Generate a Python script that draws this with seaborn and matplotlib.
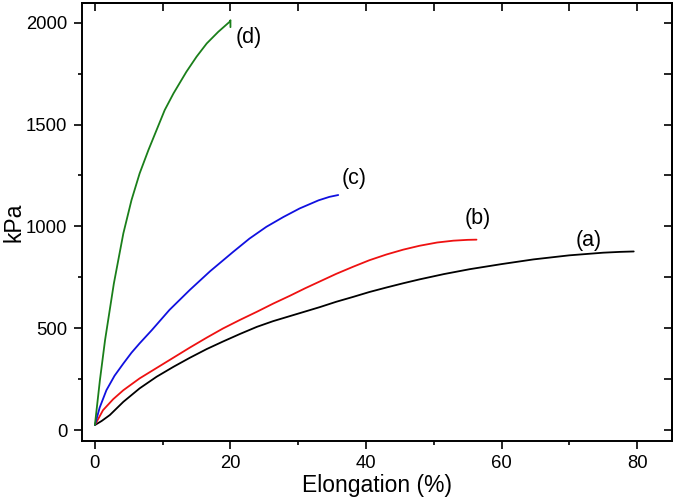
import matplotlib
matplotlib.use("Agg")
import matplotlib.pyplot as plt
import seaborn as sns
import pandas as pd
from matplotlib.ticker import MultipleLocator

# Data
a_x = [0, 1.0, 2.2, 4.2, 6.6, 9.1, 11.6, 14.0, 16.5, 18.9, 21.4, 23.9, 26.3, 28.8, 31.0, 33.2, 35.6, 38.1, 40.5,
       43.0, 45.5, 47.9, 51.5, 55.3, 60.0, 64.7, 70.0, 75.0, 77.5, 79.5]
a_y = [25, 45, 74, 139, 205, 262, 311, 355, 398, 435, 472, 507, 535, 560, 582, 604, 630, 654, 678,
       700, 721, 740, 766, 790, 815, 838, 858, 871, 875, 877]

b_x = [0, 1.2, 2.7, 4.2, 6.6, 9.1, 11.6, 14.0, 16.5, 18.9, 21.4, 23.9, 26.3, 28.8, 31.0, 33.2, 35.6, 38.1,
       40.5, 43.0, 45.5, 47.9, 50.5, 52.9, 55.0, 56.3]
b_y = [25, 98, 152, 196, 254, 305, 356, 405, 454, 499, 541, 581, 621, 660, 696, 730, 767, 802,
       834, 862, 886, 905, 921, 930, 934, 935]

c_x = [0, 0.7, 1.7, 2.9, 4.2, 5.4, 6.6, 8.4, 11.0, 14.0, 17.0, 20.4, 22.8, 25.3, 27.8, 30.2, 33.0, 34.6, 35.9]
c_y = [25, 110, 196, 267, 327, 380, 426, 491, 590, 688, 780, 875, 940, 998, 1046, 1088, 1128, 1145, 1154]

d_x = [0, 0.74, 1.5, 2.8, 4.2, 5.4, 6.6, 7.9, 9.1, 10.3, 11.6, 13.5, 15.0, 16.5, 18.2, 19.9, 20.0, 20.0]
d_y = [25, 245, 442, 720, 966, 1129, 1260, 1375, 1473, 1571, 1653, 1759, 1833, 1898, 1955, 2005, 2012, 1978]

series_names = ["(a)", "(b)", "(c)", "(d)"]
series_colors = ["black", "#ee1111", "#1010e0", "#1a7f1a"]
label_x = [72.9, 56.5, 38.2, 22.7]
label_y = [933, 1040, 1237, 1929]

frames = []
for name, xs, ys in zip(series_names, [a_x, b_x, c_x, d_x], [a_y, b_y, c_y, d_y]):
    frames.append(pd.DataFrame({"x": xs, "y": ys, "s": name}))
df = pd.concat(frames, ignore_index=True)

sns.set_theme(style="ticks")
plt.rcParams["font.family"] = ["Liberation Sans", "DejaVu Sans"]

fig = plt.figure(figsize=(6.75, 5.03), dpi=100)
ax = fig.add_axes([0.1215, 0.1238, 0.8736, 0.8696])

sns.lineplot(data=df, x="x", y="y", hue="s", palette=dict(zip(series_names, series_colors)),
             sort=False, estimator=None, units="s", lw=1.3, legend=False, ax=ax)

for name, lx, ly in zip(series_names, label_x, label_y):
    ax.text(lx, ly, name, fontsize=15.5, ha="center", va="center", color="black")

ax.set_xlim(-1.9, 85.1)
ax.set_ylim(-52, 2095)
ax.xaxis.set_major_locator(MultipleLocator(20))
ax.xaxis.set_minor_locator(MultipleLocator(10))
ax.yaxis.set_major_locator(MultipleLocator(500))
ax.yaxis.set_minor_locator(MultipleLocator(250))
ax.tick_params(which="major", direction="out", length=6, width=1.2, labelsize=13.3, color="black",
               labelcolor="black", left=True, bottom=True, top=False, right=False, pad=4.5)
ax.tick_params(which="minor", direction="out", length=2.7, width=1.2, color="black",
               left=True, bottom=True, top=False, right=False)
ax.set_xlabel("Elongation (%)", fontsize=16.5, labelpad=1, color="black")
ax.set_ylabel("kPa", fontsize=16.5, labelpad=0.5, color="black")

for sp in ax.spines.values():
    sp.set_color("black")
    sp.set_linewidth(1.4)
    sp.set_visible(True)

top = ax.secondary_xaxis("top")
top.xaxis.set_major_locator(MultipleLocator(10))
top.tick_params(axis="x", which="major", top=True, direction="in", length=6, width=1.2,
                labeltop=False, color="black")
top.spines["top"].set_linewidth(1.4)
top.spines["top"].set_color("black")
right = ax.secondary_yaxis("right")
right.yaxis.set_major_locator(MultipleLocator(250))
right.tick_params(axis="y", which="major", right=True, direction="in", length=6, width=1.2,
                  labelright=False, color="black")
right.spines["right"].set_linewidth(1.4)
right.spines["right"].set_color("black")

fig.savefig("out.png", dpi=100)
